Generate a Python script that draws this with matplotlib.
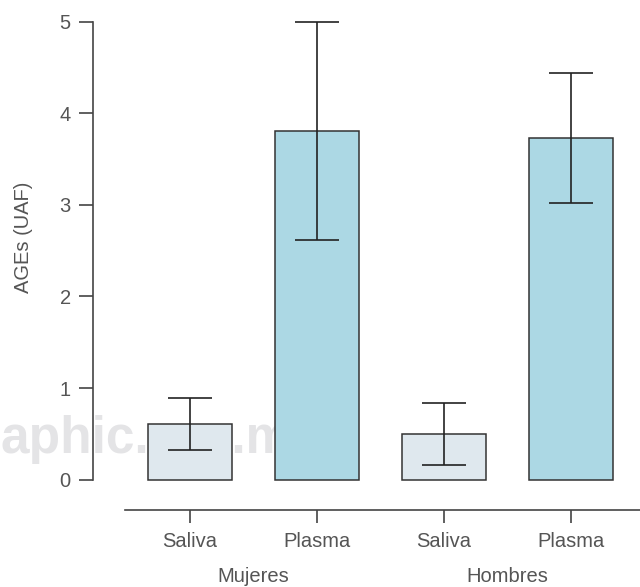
import matplotlib
matplotlib.use('Agg')
import matplotlib.pyplot as plt
import matplotlib.transforms as mtransforms

plt.rcParams['font.family'] = ['Liberation Sans', 'DejaVu Sans']

# data
samples = ['Saliva', 'Plasma', 'Saliva', 'Plasma']
groups = ['Mujeres', 'Hombres']
means = [0.61, 3.81, 0.50, 3.73]
errors = [0.28, 1.19, 0.34, 0.71]
bar_colors = ['#dfe8ee', '#acd8e4', '#dfe8ee', '#acd8e4']

text_col = '#555555'
line_col = '#444444'

fig = plt.figure(figsize=(6.4, 5.87), dpi=100)
ax = fig.add_axes([93 / 640, 1 - 510 / 587, 1 - 93 / 640, (510 - 17) / 587])
ax.set_facecolor('none')

# watermark, sits behind the bars
ax.text(1 / 640, 1 - 453 / 587, 'aphic.org.m', transform=fig.transFigure, fontsize=37,
        fontweight='bold', color='#e4e4e6', va='baseline', ha='left', zorder=0,
        clip_on=False)

xs = list(range(len(means)))
ax.bar(xs, means, width=0.66, color=bar_colors, edgecolor='#333333', linewidth=1.1, zorder=2)
ax.errorbar(xs, means, yerr=errors, fmt='none', ecolor='#222222', elinewidth=1.2,
            capsize=16, capthick=1.2, zorder=3)

ax.set_xlim(-0.764, 3.543)
ax.set_ylim(-0.33, 5.05)

for s in ['top', 'right']:
    ax.spines[s].set_visible(False)
ax.spines['left'].set_bounds(0, 5)
ax.spines['bottom'].set_bounds(-0.512, 3.543)
for s in ['left', 'bottom']:
    ax.spines[s].set_color(line_col)
    ax.spines[s].set_linewidth(1.2)

ax.set_yticks([0, 1, 2, 3, 4, 5])
ax.set_xticks(xs)
ax.set_xticklabels(samples)
ax.tick_params(axis='y', length=10, width=1.2, color=line_col, pad=6,
               labelsize=14.5, labelcolor=text_col)
ax.tick_params(axis='x', length=9, width=1.2, color=line_col, pad=7,
               labelsize=14.5, labelcolor=text_col)

ax.set_ylabel('AGEs (UAF)', fontsize=14.5, color=text_col)
ax.yaxis.set_label_coords(-0.110, 0.554)

trans = mtransforms.blended_transform_factory(ax.transData, fig.transFigure)
for i, g in enumerate(groups):
    ax.text(2 * i + 0.5, 1 - 577 / 587, g, transform=trans, ha='center', va='center',
            fontsize=14.5, color=text_col)

fig.savefig('out.png', dpi=100)
